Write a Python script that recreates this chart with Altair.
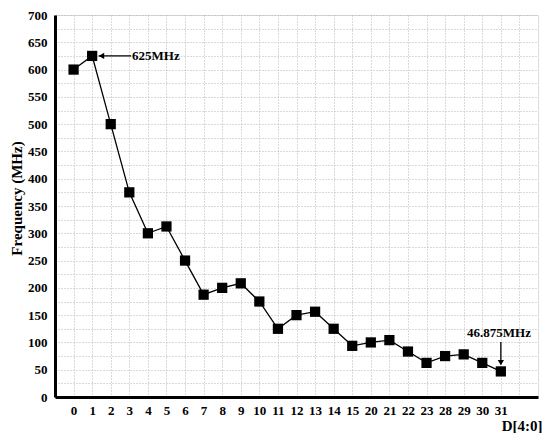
import altair as alt
import pandas as pd

codes = ["0","1","2","3","4","5","6","7","8","9","10","11","12","13","14","15",
         "20","21","22","23","28","29","30","31"]
freq = [600, 625, 500, 375, 300, 312.5, 250, 187.5, 200, 208.3, 175, 125,
        150, 156.25, 125, 93.75, 100, 104.2, 83.3, 62.5, 75, 78.1, 62.5, 46.875]

ann_text = ["625MHz", "46.875MHz"]
ann_x = [3.15, 22.9]
ann_y = [625, 118]
ann_align = ["left", "center"]

arrow_x = [1.35, 23]
arrow_x2 = [3.1, 23]
arrow_y = [625, 101]
arrow_y2 = [625, 60]
head_shape = ["triangle-left", "triangle-down"]
head_x = [1.5, 23]
head_y = [625, 63]

df = pd.DataFrame({"idx": list(range(len(codes))), "code": codes, "freq": freq})
labels_js = "[" + ",".join("'%s'" % c for c in codes) + "]"

FONT = "Liberation Serif"

xscale = alt.Scale(domain=[-1, 25], nice=False, zero=False)
yscale = alt.Scale(domain=[0, 700], nice=False)

xaxis = alt.Axis(
    values=list(range(0, 25)),
    labelExpr=labels_js + "[datum.value] || ''",
    labelOverlap=False,
    title="D[4:0]", titleAnchor="end", titleAlign="right", titleX=487,
    titleY=33, titleBaseline="alphabetic",
    titleFontSize=15, titleFont=FONT, titleFontWeight="bold",
    labelFont=FONT, labelFontWeight="bold", labelFontSize=13, labelPadding=7,
    labelColor="black", titleColor="black",
    ticks=False, domainColor="black", domainWidth=3,
    grid=True, gridColor="#b5b5b5", gridDash=[1, 2], gridWidth=1,
)
yaxis = alt.Axis(
    values=list(range(0, 701, 25)),
    labelExpr="datum.value % 50 == 0 ? datum.label : ''",
    labelOverlap=False,
    title="Frequency (MHz)", titleFontSize=15, titleFont=FONT,
    titleFontWeight="bold", titleX=-39, titleY=183, titleBaseline="middle",
    labelFont=FONT, labelFontWeight="bold", labelFontSize=13, labelPadding=8,
    labelColor="black", titleColor="black",
    ticks=False, domainColor="black", domainWidth=3,
    grid=True, gridColor="#b5b5b5", gridDash=[1, 2], gridWidth=1,
)

base = alt.Chart(df)
line = base.mark_line(color="black", strokeWidth=1.3).encode(
    x=alt.X("idx:Q", scale=xscale, axis=xaxis),
    y=alt.Y("freq:Q", scale=yscale, axis=yaxis),
)
pts = base.mark_point(shape="square", filled=True, color="black", size=105, opacity=1).encode(
    x=alt.X("idx:Q", scale=xscale, axis=xaxis),
    y=alt.Y("freq:Q", scale=yscale, axis=yaxis),
)

adf = pd.DataFrame({"t": ann_text, "x": ann_x, "y": ann_y, "al": ann_align})
txt_left = alt.Chart(adf[adf.al == "left"]).mark_text(
    font=FONT, fontWeight="bold", fontSize=13, align="left", baseline="middle", color="black"
).encode(x=alt.X("x:Q", scale=xscale, axis=xaxis), y=alt.Y("y:Q", scale=yscale, axis=yaxis), text="t:N")
txt_center = alt.Chart(adf[adf.al == "center"]).mark_text(
    font=FONT, fontWeight="bold", fontSize=13, align="center", baseline="middle", color="black"
).encode(x=alt.X("x:Q", scale=xscale, axis=xaxis), y=alt.Y("y:Q", scale=yscale, axis=yaxis), text="t:N")

rdf = pd.DataFrame({"x": arrow_x, "x2": arrow_x2, "y": arrow_y, "y2": arrow_y2})
rules = alt.Chart(rdf).mark_rule(color="black", strokeWidth=1.3).encode(
    x=alt.X("x:Q", scale=xscale, axis=xaxis), x2="x2:Q",
    y=alt.Y("y:Q", scale=yscale, axis=yaxis), y2="y2:Q",
)
hdf = pd.DataFrame({"x": head_x, "y": head_y, "s": head_shape})
heads = alt.Chart(hdf).mark_point(filled=True, color="black", size=40, opacity=1).encode(
    x=alt.X("x:Q", scale=xscale, axis=xaxis), y=alt.Y("y:Q", scale=yscale, axis=yaxis),
    shape=alt.Shape("s:N", scale=None),
)

chart = alt.layer(line, pts, rules, heads, txt_left, txt_center).properties(
    width=483, height=382,
    autosize=alt.AutoSizeParams(type="none"),
    padding={"left": 47, "top": 7, "right": 4, "bottom": 36},
).configure_view(stroke="black", strokeWidth=2).configure(background="white"
).configure_axis(labelOverlap=False, labelBound=False, labelFlush=False)

chart.save("out.html", embed_options={"renderer": "svg", "actions": False})
